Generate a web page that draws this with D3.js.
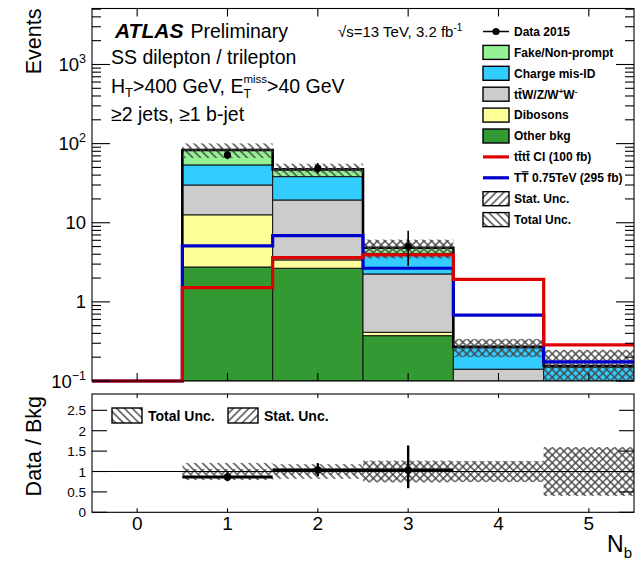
<!DOCTYPE html>
<html><head><meta charset="utf-8">
<script src="https://cdn.jsdelivr.net/npm/d3@7"></script>
<style>html,body{margin:0;padding:0;background:#fff;} svg{display:block;font-family:"Liberation Sans",Arial,Helvetica,sans-serif;} text{white-space:pre;}</style>
</head><body><svg id="c" width="642" height="561"></svg>
<script>
// ---------------- data ----------------
const bins = [0, 1, 2, 3, 4, 5];
const xTickLabels = ["0", "1", "2", "3", "4", "5"];
const otherBkg    = [0, 2.76, 2.66, 0.374, 0.020, 0.005];
const dibosons    = [0, 9.84, 0.73, 0.039, 0.005, 0.002];
const ttV         = [0, 17.4, 16.0, 1.84, 0.116, 0.030];
const chargeMisID = [0, 23.8, 18.9, 1.84, 0.124, 0.113];
const fakes       = [0, 29.4, 9.0, 0.73, 0.005, 0.005];
const tttt        = [0, 1.51, 3.62, 3.92, 1.93, 0.286];
const TTbar       = [0, 5.09, 6.87, 2.66, 0.68, 0.174];
const dataCounts  = [0, 72, 49, 5, 0, 0];
const dataErrLow  = [0, 8.5, 7.0, 2.15, 0, 0];
const dataErrHigh = [0, 9.5, 8.0, 2.9, 0, 0];
const totalUncRel = [0, 0.21, 0.18, 0.27, 0.26, 0.60];
const statUncRel  = [0, 0.06, 0.08, 0.25, 0.25, 0.58];
const yMainTicks  = [0.1, 1, 10, 100, 1000];
const yMainLabels = [["10", "\u22121"], ["1", ""], ["10", ""], ["10", "2"], ["10", "3"]];
const yRatioTicks = [0, 0.5, 1, 1.5, 2, 2.5];
const yRatioLabels = ["0", "0.5", "1", "1.5", "2", "2.5"];

const seriesKeys   = ["other", "dibosons", "ttV", "chargeMisID", "fakes"];
const seriesColors = {other: "#339933", dibosons: "#ffff99", ttV: "#cccccc", chargeMisID: "#33ccff", fakes: "#94f294"};
const RED = "#dd0000", BLUE = "#0000cc";

// ---------------- layout ----------------
const svg = d3.select("#c");
const L = 92, R = 634, T = 8.5, B = 381;
const RT = 394, RB = 512.3;
const x  = d3.scaleLinear().domain([-0.5, 5.5]).range([L, R]);
const y  = d3.scaleLog().domain([0.1, 5100]).range([B, T]).clamp(true);
const yr = d3.scaleLinear().domain([0, 2.9]).range([RB, RT]);
const yv = v => y(Math.max(v, 0.1));

const defs = svg.append("defs");
function hatch(id, angle) {
  const p = defs.append("pattern").attr("id", id).attr("patternUnits", "userSpaceOnUse")
    .attr("width", 5.5).attr("height", 5.5).attr("patternTransform", `rotate(${angle})`);
  p.append("line").attr("x1", 2.75).attr("y1", -1).attr("x2", 2.75).attr("y2", 6.5)
    .attr("stroke", "#444").attr("stroke-width", 1.4);
}
hatch("hTot", -45);
hatch("hStat", 45);
defs.append("clipPath").attr("id", "clipMain").append("rect").attr("x", L).attr("y", T).attr("width", R - L).attr("height", B - T);
defs.append("clipPath").attr("id", "clipRatio").append("rect").attr("x", L).attr("y", RT).attr("width", R - L).attr("height", RB - RT);

// ---------------- main panel ----------------
const rows = bins.map((b, i) => ({bin: b, other: otherBkg[i], dibosons: dibosons[i], ttV: ttV[i], chargeMisID: chargeMisID[i], fakes: fakes[i]}));
const stacked = d3.stack().keys(seriesKeys)(rows);
const totals = rows.map(r => seriesKeys.reduce((s, k) => s + r[k], 0));

const gMain = svg.append("g").attr("clip-path", "url(#clipMain)");
stacked.forEach(layer => {
  gMain.append("g").selectAll("rect").data(layer.filter((d, i) => totals[i] > 0)).join("rect")
    .attr("x", d => x(d.data.bin - 0.5)).attr("width", d => x(d.data.bin + 0.5) - x(d.data.bin - 0.5))
    .attr("y", d => yv(d[1])).attr("height", d => Math.max(0, yv(d[0]) - yv(d[1])))
    .attr("fill", seriesColors[layer.key]).attr("stroke", "#111").attr("stroke-width", 1);
});

// total outline
const outlinePts = [[0.5, 0.1]];
bins.forEach((b, i) => { if (totals[i] > 0) { outlinePts.push([b - 0.5, totals[i]], [b + 0.5, totals[i]]); } });
const stepLine = d3.line().x(d => x(d[0])).y(d => yv(d[1]));
gMain.append("path").attr("d", stepLine(outlinePts)).attr("fill", "none").attr("stroke", "#000").attr("stroke-width", 2.6);

// uncertainty bands
[["hTot", totalUncRel], ["hStat", statUncRel]].forEach(([pat, rel]) => {
  gMain.append("g").selectAll("rect").data(bins.filter((b, i) => totals[i] > 0)).join("rect")
    .attr("x", b => x(b - 0.5)).attr("width", b => x(b + 0.5) - x(b - 0.5))
    .attr("y", b => yv(totals[b] * (1 + rel[b])))
    .attr("height", b => Math.max(0, yv(totals[b] * (1 - rel[b])) - yv(totals[b] * (1 + rel[b]))))
    .attr("fill", `url(#${pat})`);
});

// signal lines
function stepPts(vals) { const p = []; bins.forEach((b, i) => { p.push([b - 0.5, vals[i]], [b + 0.5, vals[i]]); }); return p; }
svg.append("path").attr("d", stepLine(stepPts(TTbar))).attr("fill", "none").attr("stroke", BLUE).attr("stroke-width", 3.2);
svg.append("path").attr("d", stepLine(stepPts(tttt))).attr("fill", "none").attr("stroke", RED).attr("stroke-width", 3.2);

// data
const dIdx = bins.filter((b, i) => dataCounts[i] > 0);
svg.append("g").selectAll("line").data(dIdx).join("line")
  .attr("x1", b => x(b)).attr("x2", b => x(b))
  .attr("y1", b => yv(dataCounts[b] + dataErrHigh[b])).attr("y2", b => yv(dataCounts[b] - dataErrLow[b]))
  .attr("stroke", "#000").attr("stroke-width", 1.6);
svg.append("g").selectAll("circle").data(dIdx).join("circle")
  .attr("cx", b => x(b)).attr("cy", b => yv(dataCounts[b])).attr("r", 3.6).attr("fill", "#000");

// frame + ticks
svg.append("rect").attr("x", L).attr("y", T).attr("width", R - L).attr("height", B - T).attr("fill", "none").attr("stroke", "#000").attr("stroke-width", 1.1);
const gt = svg.append("g").attr("stroke", "#000").attr("stroke-width", 1.1);
bins.forEach(b => {
  gt.append("line").attr("x1", x(b)).attr("x2", x(b)).attr("y1", T).attr("y2", T + 8);
  gt.append("line").attr("x1", x(b)).attr("x2", x(b)).attr("y1", B).attr("y2", B - 8);
});
for (let e = -1; e <= 3; e++) {
  for (let k = 1; k <= 9; k++) {
    const v = k * Math.pow(10, e);
    if (v > 5100) continue;
    const len = k === 1 ? 18 : 9;
    gt.append("line").attr("x1", L).attr("x2", L + len).attr("y1", y(v)).attr("y2", y(v));
    gt.append("line").attr("x1", R).attr("x2", R - len).attr("y1", y(v)).attr("y2", y(v));
  }
}
yMainTicks.forEach((v, i) => {
  const t = svg.append("text").attr("x", 86).attr("y", y(v) + 6.5).attr("text-anchor", "end").attr("font-size", 18.5);
  t.append("tspan").text(yMainLabels[i][0]);
  if (yMainLabels[i][1]) t.append("tspan").attr("dy", -8).attr("font-size", 12.5).text(yMainLabels[i][1]);
});
svg.append("text").attr("transform", `translate(41,${T}) rotate(-90)`).attr("text-anchor", "end").attr("font-size", 21.5).text("Events");

// ---------------- rich text helper ----------------
function rich(g, x0, y0, parts) {
  let cx = x0, lastX = x0, lastW = 0;
  parts.forEach(p => {
    const px = p.stack ? lastX : cx;
    const t = g.append("text").attr("x", px).attr("y", y0 + (p.dy || 0)).attr("font-size", p.fs)
      .attr("font-weight", p.fw || "normal").attr("font-style", p.fi ? "italic" : "normal").text(p.t);
    const w = t.node().getComputedTextLength();
    if (p.bar) {
      g.append("line").attr("x1", px + 0.3).attr("x2", px + w - 0.3)
        .attr("y1", y0 - p.fs * p.bar).attr("y2", y0 - p.fs * p.bar).attr("stroke", "#000").attr("stroke-width", 1.1);
    }
    if (p.stack) { cx = lastX + Math.max(lastW, w); }
    else { lastX = px; lastW = w; cx = px + w + (p.gap || 0); }
  });
}

// top-left labels
const gTxt = svg.append("g").attr("fill", "#000");
rich(gTxt, 115, 38, [{t: "ATLAS", fs: 21, fw: "bold", fi: true, gap: 7}, {t: "Preliminary", fs: 19.5}]);
rich(gTxt, 338, 37, [{t: "\u221As=13 TeV, 3.2 fb", fs: 15}, {t: "-1", fs: 10, dy: -6}]);
rich(gTxt, 111, 64, [{t: "SS dilepton / trilepton", fs: 19.5}]);
rich(gTxt, 111, 93, [{t: "H", fs: 19.5}, {t: "T", fs: 13, dy: 4}, {t: ">400 GeV, E", fs: 19.5}, {t: "miss", fs: 11.5, dy: -10}, {t: "T", fs: 12.5, dy: 5, stack: true}, {t: ">40 GeV", fs: 19.5}]);
rich(gTxt, 111, 121, [{t: "\u22652 jets, \u22651 b-jet", fs: 19.5}]);

// main legend
const legRows = [
  {type: "data", parts: [{t: "Data 2015"}]},
  {type: "box", fill: seriesColors.fakes, parts: [{t: "Fake/Non-prompt"}]},
  {type: "box", fill: seriesColors.chargeMisID, parts: [{t: "Charge mis-ID"}]},
  {type: "box", fill: seriesColors.ttV, parts: [{t: "t"}, {t: "t", bar: 0.82}, {t: "W/Z/W"}, {t: "+", fs: 8, dy: -5}, {t: "W"}, {t: "-", fs: 8, dy: -5}]},
  {type: "box", fill: seriesColors.dibosons, parts: [{t: "Dibosons"}]},
  {type: "box", fill: seriesColors.other, parts: [{t: "Other bkg"}]},
  {type: "line", color: RED, parts: [{t: "t"}, {t: "t", bar: 0.82}, {t: "t"}, {t: "t", bar: 0.82, gap: 3.3}, {t: "CI (100 fb)"}]},
  {type: "line", color: BLUE, parts: [{t: "T"}, {t: "T", bar: 0.86, gap: 3.3}, {t: "0.75TeV (295 fb)"}]},
  {type: "pat", pat: "hStat", parts: [{t: "Stat. Unc."}]},
  {type: "pat", pat: "hTot", parts: [{t: "Total Unc."}]}
];
const gLeg = svg.append("g");
legRows.forEach((r, i) => {
  const cy = 31.5 + i * 20.9;
  if (r.type === "data") {
    gLeg.append("line").attr("x1", 483).attr("x2", 509).attr("y1", cy).attr("y2", cy).attr("stroke", "#000").attr("stroke-width", 1.5);
    gLeg.append("circle").attr("cx", 496).attr("cy", cy).attr("r", 3.6).attr("fill", "#000");
  } else if (r.type === "box") {
    gLeg.append("rect").attr("x", 483).attr("y", cy - 7).attr("width", 26).attr("height", 14).attr("fill", r.fill).attr("stroke", "#000").attr("stroke-width", 1.4);
  } else if (r.type === "line") {
    gLeg.append("line").attr("x1", 483).attr("x2", 509).attr("y1", cy).attr("y2", cy).attr("stroke", r.color).attr("stroke-width", 3.2);
  } else {
    gLeg.append("rect").attr("x", 483).attr("y", cy - 7).attr("width", 26).attr("height", 14).attr("fill", "#fff");
    gLeg.append("rect").attr("x", 483).attr("y", cy - 7).attr("width", 26).attr("height", 14).attr("fill", `url(#${r.pat})`).attr("stroke", "#000").attr("stroke-width", 1.4);
  }
  rich(gLeg, 514, cy + 4.3, r.parts.map(p => Object.assign({fs: 12, fw: "bold"}, p)));
});

// ---------------- ratio panel ----------------
const gRat = svg.append("g").attr("clip-path", "url(#clipRatio)");
[["hTot", totalUncRel], ["hStat", statUncRel]].forEach(([pat, rel]) => {
  gRat.append("g").selectAll("rect").data(bins.filter((b, i) => totals[i] > 0)).join("rect")
    .attr("x", b => x(b - 0.5)).attr("width", b => x(b + 0.5) - x(b - 0.5))
    .attr("y", b => yr(1 + rel[b])).attr("height", b => yr(1 - rel[b]) - yr(1 + rel[b]))
    .attr("fill", `url(#${pat})`);
});
svg.append("line").attr("x1", L).attr("x2", R).attr("y1", yr(1)).attr("y2", yr(1)).attr("stroke", "#000").attr("stroke-width", 1.1);
const ratio = bins.map((b, i) => totals[i] > 0 ? dataCounts[i] / totals[i] : 0);
const rIdx = bins.filter((b, i) => dataCounts[i] > 0);
svg.append("g").selectAll("line.h").data(rIdx).join("line")
  .attr("x1", b => x(b - 0.5)).attr("x2", b => x(b + 0.5)).attr("y1", b => yr(ratio[b])).attr("y2", b => yr(ratio[b]))
  .attr("stroke", "#000").attr("stroke-width", 3.2);
svg.append("g").selectAll("line.v").data(rIdx).join("line")
  .attr("x1", b => x(b)).attr("x2", b => x(b))
  .attr("y1", b => yr(ratio[b] + dataErrHigh[b] / totals[b])).attr("y2", b => yr(ratio[b] - dataErrLow[b] / totals[b]))
  .attr("stroke", "#000").attr("stroke-width", 2.4);
svg.append("g").selectAll("circle").data(rIdx).join("circle")
  .attr("cx", b => x(b)).attr("cy", b => yr(ratio[b])).attr("r", 3.8).attr("fill", "#000");

svg.append("rect").attr("x", L).attr("y", RT).attr("width", R - L).attr("height", RB - RT).attr("fill", "none").attr("stroke", "#000").attr("stroke-width", 1.1);
const gtr = svg.append("g").attr("stroke", "#000").attr("stroke-width", 1.1);
bins.forEach(b => {
  gtr.append("line").attr("x1", x(b)).attr("x2", x(b)).attr("y1", RT).attr("y2", RT + 4);
  gtr.append("line").attr("x1", x(b)).attr("x2", x(b)).attr("y1", RB).attr("y2", RB - 4);
});
yRatioTicks.forEach((v, i) => {
  gtr.append("line").attr("x1", L).attr("x2", L + 15).attr("y1", yr(v)).attr("y2", yr(v));
  gtr.append("line").attr("x1", R).attr("x2", R - 15).attr("y1", yr(v)).attr("y2", yr(v));
  svg.append("text").attr("x", 86).attr("y", yr(v) + 5).attr("text-anchor", "end").attr("font-size", 13.5).text(yRatioLabels[i]);
});
bins.forEach((b, i) => {
  svg.append("text").attr("x", x(b)).attr("y", 530).attr("text-anchor", "middle").attr("font-size", 19).text(xTickLabels[i]);
});
svg.append("text").attr("transform", `translate(41,${RT + 2}) rotate(-90)`).attr("text-anchor", "end").attr("font-size", 21.5).text("Data / Bkg");
rich(svg, 607, 552, [{t: "N", fs: 23}, {t: "b", fs: 15, dy: 6}]);

// ratio legend
[[112, "hTot", "Total Unc."], [228, "hStat", "Stat. Unc."]].forEach(([lx, pat, label]) => {
  svg.append("rect").attr("x", lx).attr("y", 408).attr("width", 30).attr("height", 15).attr("fill", "#fff");
  svg.append("rect").attr("x", lx).attr("y", 408).attr("width", 30).attr("height", 15).attr("fill", `url(#${pat})`).attr("stroke", "#000").attr("stroke-width", 1.4);
  svg.append("text").attr("x", lx + 36).attr("y", 421).attr("font-size", 14).attr("font-weight", "bold").text(label);
});
</script></body></html>
